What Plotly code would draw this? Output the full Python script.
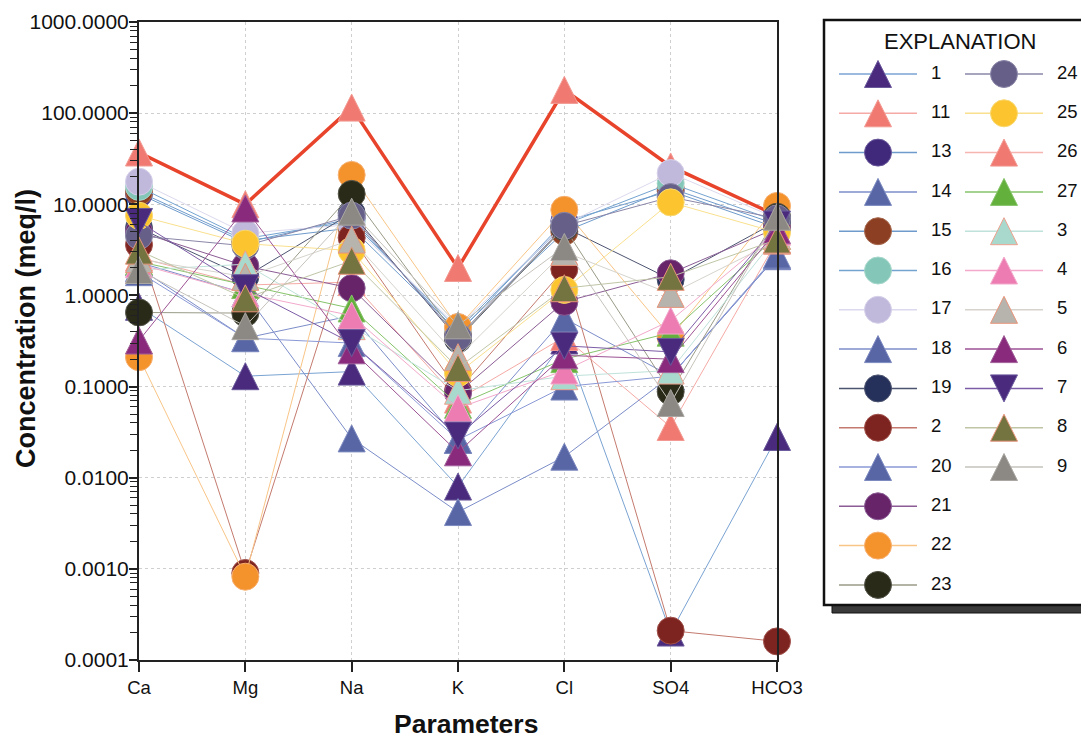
import plotly.graph_objects as go

# ---------------- data ----------------
params = ["Ca", "Mg", "Na", "K", "Cl", "SO4", "HCO3"]
tick_vals = [1000, 100, 10, 1, 0.1, 0.01, 0.001, 0.0001]
tick_text = ["1000.0000", "100.0000", "10.0000", "1.0000", "0.1000", "0.0100", "0.0010", "0.0001"]

# order of the explanation (legend) entries
sample_order = ["1", "11", "13", "14", "15", "16", "17", "18", "19", "2", "20", "21",
                "22", "23", "24", "25", "26", "27", "3", "4", "5", "6", "7", "8", "9"]

s1 = [0.75, 0.13, 0.146, 0.008, 0.32, 0.0002, 0.028]
s11 = [2.6, 1.3, 1.4, 0.072, 0.35, 0.036, 4.0]
s13 = [13.0, 3.8, 7.0, 0.38, 6.5, 14.0, 5.5]
s14 = [2.0, 0.34, 0.6, 0.026, 0.56, 0.13, 2.7]
s15 = [13.7, 4.0, 5.5, 0.40, 5.0, 15.0, 6.0]
s16 = [15.5, 4.2, 6.5, 0.42, 6.0, 17.0, 6.5]
s17 = [17.7, 4.8, 6.0, 0.45, 6.0, 22.0, 7.0]
s18 = [2.3, 1.05, 0.027, 0.0042, 0.017, 0.13, 2.7]
s19 = [5.5, 1.6, 8.0, 0.33, 5.6, 1.5, 6.5]
s2 = [3.6, 0.0009, 4.3, 0.09, 1.95, 0.00021, 0.00016]
s20 = [1.8, 0.34, 0.3, 0.026, 0.1, 0.13, 2.8]
s21 = [5.0, 2.1, 1.2, 0.085, 0.85, 1.75, 5.5]
s22 = [0.21, 0.00082, 21.0, 0.45, 8.7, 0.35, 9.6]
s23 = [0.65, 0.64, 13.0, 0.34, 5.6, 0.088, 7.3]
s24 = [4.5, 3.5, 7.5, 0.35, 5.8, 12.0, 7.0]
s25 = [7.5, 3.7, 3.1, 0.14, 1.15, 10.5, 4.9]
s26 = [37.0, 10.0, 115.0, 2.0, 180.0, 26.0, 7.5]
s27 = [2.35, 1.3, 0.72, 0.063, 0.2, 0.39, 4.5]
s3 = [1.9, 2.2, 0.46, 0.09, 0.13, 0.15, 4.5]
s4 = [2.2, 1.05, 0.6, 0.058, 0.15, 0.53, 5.0]
s5 = [2.5, 1.6, 4.1, 0.21, 3.0, 1.04, 4.0]
s6 = [0.32, 9.0, 0.25, 0.019, 0.22, 0.2, 5.2]
s7 = [6.4, 1.2, 0.30, 0.029, 0.28, 0.24, 6.0]
s8 = [3.1, 0.93, 2.4, 0.16, 1.2, 1.6, 4.1]
s9 = [1.9, 0.46, 8.3, 0.47, 3.4, 0.066, 7.3]

values = {"1": s1, "11": s11, "13": s13, "14": s14, "15": s15, "16": s16, "17": s17,
          "18": s18, "19": s19, "2": s2, "20": s20, "21": s21, "22": s22, "23": s23,
          "24": s24, "25": s25, "26": s26, "27": s27, "3": s3, "4": s4, "5": s5,
          "6": s6, "7": s7, "8": s8, "9": s9}

# ---------------- styles ----------------
# name: (shape, marker colour, outline colour, line colour)
styles = {
    "1": ("up", "#4a2a7c", "#6a5a9c", "#7aa3d2"),
    "11": ("up", "#f07a72", "#f29a92", "#f5aaa5"),
    "13": ("c", "#40287a", "#6a5a9c", "#6e9bcc"),
    "14": ("up", "#5866a6", "#7d8ac0", "#7c8dc9"),
    "15": ("c", "#8c3f22", "#a86a50", "#6e9bcc"),
    "16": ("c", "#84c7b8", "#a8d8cc", "#74a3d0"),
    "17": ("c", "#c0b9dc", "#d6d0ea", "#dcd9ee"),
    "18": ("up", "#5866a6", "#7d8ac0", "#7c8dc9"),
    "19": ("c", "#25315a", "#4d5470", "#4d5470"),
    "2": ("c", "#7e2420", "#a0504a", "#c47a6e"),
    "20": ("up", "#5866a6", "#7d8ac0", "#8a99d6"),
    "21": ("c", "#672468", "#8b5c95", "#8b5c95"),
    "22": ("c", "#f4922c", "#f7b070", "#f9c587"),
    "23": ("c", "#2a2a18", "#55554a", "#9a9a88"),
    "24": ("c", "#666088", "#8a86a8", "#8a86a8"),
    "25": ("c", "#fcc42e", "#f9d870", "#f9e08e"),
    "26": ("up", "#f07a72", "#f29a92", "#f5b5b0"),
    "27": ("up", "#64b03c", "#86c46a", "#86c46a"),
    "3": ("up", "#a9d9cc", "#eea08e", "#bfe2da"),
    "4": ("up", "#ec7cb2", "#f2a9cb", "#f2a9cb"),
    "5": ("up", "#b7b3ad", "#e8957a", "#d5d3cc"),
    "6": ("up", "#8a2a7c", "#a0609a", "#9c5294"),
    "7": ("down", "#4a2a7c", "#6a5a9c", "#7c5ca6"),
    "8": ("up", "#737440", "#e8957a", "#bfc6a6"),
    "9": ("up", "#8c8985", "#aaa7a2", "#c6c3bc"),
}
highlight = "26"
MS = 27
FONT = "Liberation Sans, Arial, sans-serif"
W, H = 1089, 742
OFF = 8  # page body margin: figure starts 8 px right / down in the window
PX0, PX1, PY0, PY1 = 139, 777, 22, 660  # plot area in window pixels


def marker_for(name, size):
    shape, mc, oc, _ = styles[name]
    if shape == "c":
        return dict(symbol="circle", size=size, color=mc, line=dict(color=oc, width=1))
    # equilateral-looking triangle: arrow glyph centred with standoff
    ang = 180 if shape == "up" else 0
    return dict(symbol="arrow-down", size=size, color=mc, angle=ang,
                line=dict(color=oc, width=1), standoff=size / 2)


fig = go.Figure()

draw_order = [highlight] + [n for n in sample_order if n != highlight]
for name in draw_order:
    lc = styles[name][3]
    lw = 1
    if name == highlight:
        lc, lw = "#e8432b", 3.5
    fig.add_trace(go.Scatter(
        x=params, y=values[name], mode="lines+markers", name=name,
        line=dict(color=lc, width=lw, backoff=0), marker=marker_for(name, MS),
        cliponaxis=False, xaxis="x", yaxis="y", showlegend=False,
    ))

# ---------------- explanation box (own pixel axes, window coordinates) ----------------
row0, row_step = 74, 39.3
cols = [(839, 917, 931), (965, 1043, 1057)]
n_left = 14
lab_x, lab_y, lab_t = [], [], []
for i, name in enumerate(sample_order):
    c = 0 if i < n_left else 1
    r = i if i < n_left else i - n_left
    x0, x1, xl = cols[c]
    ry = row0 + r * row_step
    fig.add_trace(go.Scatter(x=[x0, x1], y=[ry, ry], mode="lines",
                             line=dict(color=styles[name][3], width=1.5),
                             xaxis="x2", yaxis="y2", showlegend=False, hoverinfo="skip"))
    fig.add_trace(go.Scatter(x=[(x0 + x1) / 2], y=[ry], mode="markers",
                             marker=marker_for(name, MS), cliponaxis=False,
                             xaxis="x2", yaxis="y2", showlegend=False, hoverinfo="skip"))
    lab_x.append(xl)
    lab_y.append(ry)
    lab_t.append(name)

fig.add_trace(go.Scatter(x=lab_x, y=lab_y, text=lab_t, mode="text", textposition="middle right",
                         textfont=dict(family=FONT, size=18.5, color="#111"),
                         xaxis="x2", yaxis="y2", showlegend=False, hoverinfo="skip"))

fig.add_shape(type="rect", xref="x2", yref="y2", x0=832, x1=1110, y0=604, y1=613,
              fillcolor="#3a3a3a", line=dict(color="#111", width=1), layer="below")
fig.add_shape(type="rect", xref="x2", yref="y2", x0=824, x1=1110, y0=20, y1=605,
              fillcolor="white", line=dict(color="#111", width=2.5), layer="below")

fig.add_annotation(x=960, y=41, xref="x2", yref="y2", text="EXPLANATION", showarrow=False,
                   xanchor="center", yanchor="middle",
                   font=dict(family=FONT, size=22, color="#111"))

# axis titles (paper coords derived from window pixels)
fig.add_annotation(x=(26 - OFF) / W, y=1 - (329 - OFF) / H, xref="paper", yref="paper",
                   xanchor="center", yanchor="middle",
                   text="<b>Concentration (meq/l)</b>", textangle=-90, showarrow=False,
                   font=dict(family=FONT, size=27, color="#111"))
fig.add_annotation(x=(466 - OFF) / W, y=1 - (724 - OFF) / H, xref="paper", yref="paper",
                   xanchor="center", yanchor="middle",
                   text="<b>Parameters</b>", showarrow=False,
                   font=dict(family=FONT, size=26.5, color="#111"))

fig.update_layout(
    template="none",
    width=W, height=H, margin=dict(l=0, r=0, t=0, b=0, autoexpand=False),
    plot_bgcolor="white", paper_bgcolor="white", showlegend=False,
    font=dict(family=FONT, color="#111"),
    xaxis=dict(domain=[(PX0 - OFF) / W, (PX1 - OFF) / W], type="category",
               categoryorder="array", categoryarray=params, range=[0, 6],
               showline=True, mirror=True,
               linecolor="#222", linewidth=2, ticks="outside", ticklen=10, tickwidth=1.5,
               tickcolor="#222", showgrid=True, gridcolor="#cfcfcf", griddash="dot",
               gridwidth=1, tickfont=dict(size=18.5, family=FONT, color="#111"),
               zeroline=False, fixedrange=True, automargin=False),
    yaxis=dict(domain=[1 - (PY1 - OFF) / H, 1 - (PY0 - OFF) / H], type="log", range=[-4, 3],
               tickvals=tick_vals, ticktext=tick_text, showline=True, mirror=True,
               linecolor="#222", linewidth=2, ticks="outside", ticklen=8, tickwidth=1.5,
               tickcolor="#222", showgrid=True, gridcolor="#cfcfcf", griddash="dot",
               gridwidth=1, tickfont=dict(size=21, family=FONT, color="#111"),
               ticklabelstandoff=-4,
               minor=dict(ticks="outside", ticklen=7, tickcolor="#222", tickwidth=1.2,
                          dtick="D1", showgrid=False),
               zeroline=False, fixedrange=True, automargin=False),
    xaxis2=dict(domain=[(814 - OFF) / W, 1], range=[814, W + OFF], visible=False,
                fixedrange=True, automargin=False),
    yaxis2=dict(domain=[0, 1], range=[H + OFF, OFF], visible=False, fixedrange=True,
                automargin=False),
)

fig.write_html("out.html")
